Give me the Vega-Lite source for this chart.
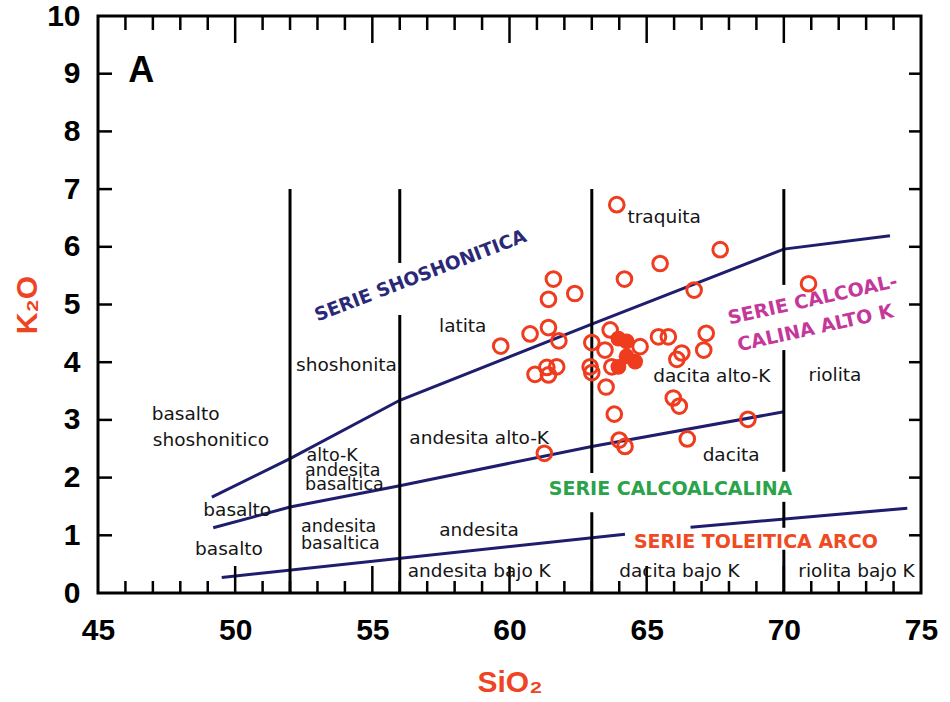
{
  "$schema": "https://vega.github.io/schema/vega-lite/v6.json",
  "width": 823,
  "height": 577,
  "autosize": {"type": "none"},
  "padding": {"left": 98, "top": 16, "right": 29, "bottom": 109},
  "background": "white",
  "config": {
    "view": {"stroke": "black", "strokeWidth": 3},
    "axis": {"grid": false, "domain": false, "labelFlush": false, "labelOverlap": false}
  },
  "datasets": {
    "bounds": [
      {"seg": "sho", "x": 49.15, "y": 1.66},
      {"seg": "sho", "x": 52, "y": 2.33},
      {"seg": "sho", "x": 56, "y": 3.34},
      {"seg": "sho", "x": 63, "y": 4.66},
      {"seg": "sho", "x": 70, "y": 5.96},
      {"seg": "sho", "x": 73.87, "y": 6.19},
      {"seg": "hk", "x": 49.2, "y": 1.13},
      {"seg": "hk", "x": 52, "y": 1.49},
      {"seg": "hk", "x": 56, "y": 1.86},
      {"seg": "hk", "x": 63, "y": 2.54},
      {"seg": "hk", "x": 70, "y": 3.14},
      {"seg": "th1", "x": 49.51, "y": 0.27},
      {"seg": "th1", "x": 64.21, "y": 1.02},
      {"seg": "th2", "x": 66.6, "y": 1.14},
      {"seg": "th2", "x": 74.5, "y": 1.47}
    ],
    "verts": [
      {"x": 52, "y": 0, "y2": 7},
      {"x": 56, "y": 0, "y2": 4.82},
      {"x": 56, "y": 5.72, "y2": 7},
      {"x": 63, "y": 0, "y2": 1.4},
      {"x": 63, "y": 2.08, "y2": 7},
      {"x": 70, "y": 0, "y2": 0.75},
      {"x": 70, "y": 1.13, "y2": 1.58},
      {"x": 70, "y": 2.1, "y2": 4.21},
      {"x": 70, "y": 5.34, "y2": 7}
    ],
    "xminor": [
      {"v": 46}, {"v": 47}, {"v": 48}, {"v": 49}, {"v": 51}, {"v": 52}, {"v": 53}, {"v": 54},
      {"v": 56}, {"v": 57}, {"v": 58}, {"v": 59}, {"v": 61}, {"v": 62}, {"v": 63}, {"v": 64},
      {"v": 66}, {"v": 67}, {"v": 68}, {"v": 69}, {"v": 71}, {"v": 72}, {"v": 73}, {"v": 74}
    ],
    "xmajor": [{"v": 50}, {"v": 55}, {"v": 60}, {"v": 65}, {"v": 70}],
    "yticks": [{"v": 1}, {"v": 2}, {"v": 3}, {"v": 4}, {"v": 5}, {"v": 6}, {"v": 7}, {"v": 8}, {"v": 9}],
    "pts": [
      {"x": 63.91, "y": 6.73}, {"x": 67.68, "y": 5.95}, {"x": 65.49, "y": 5.71},
      {"x": 64.19, "y": 5.44}, {"x": 61.6, "y": 5.44}, {"x": 62.38, "y": 5.19},
      {"x": 61.42, "y": 5.09}, {"x": 66.73, "y": 5.25}, {"x": 70.9, "y": 5.36},
      {"x": 61.42, "y": 4.6}, {"x": 60.75, "y": 4.49}, {"x": 59.68, "y": 4.28},
      {"x": 61.8, "y": 4.37}, {"x": 63.0, "y": 4.34}, {"x": 63.67, "y": 4.56},
      {"x": 63.48, "y": 4.21}, {"x": 60.93, "y": 3.79}, {"x": 61.36, "y": 3.91},
      {"x": 61.72, "y": 3.92}, {"x": 61.42, "y": 3.78}, {"x": 62.94, "y": 3.92},
      {"x": 63.0, "y": 3.82}, {"x": 63.73, "y": 3.92}, {"x": 64.76, "y": 4.27},
      {"x": 65.43, "y": 4.44}, {"x": 65.79, "y": 4.44}, {"x": 67.17, "y": 4.5},
      {"x": 66.28, "y": 4.16}, {"x": 66.1, "y": 4.05}, {"x": 67.08, "y": 4.21},
      {"x": 63.52, "y": 3.57}, {"x": 65.97, "y": 3.38}, {"x": 66.19, "y": 3.24},
      {"x": 63.82, "y": 3.1}, {"x": 68.69, "y": 3.01}, {"x": 64.0, "y": 2.65},
      {"x": 64.21, "y": 2.54}, {"x": 66.48, "y": 2.67}, {"x": 61.27, "y": 2.42}
    ],
    "filledpts": [
      {"x": 63.97, "y": 4.41}, {"x": 64.27, "y": 4.36}, {"x": 63.97, "y": 3.92},
      {"x": 64.58, "y": 4.01}, {"x": 64.27, "y": 4.1}
    ],
    "labels": [
      {"text": "traquita", "x": 64.3, "y": 6.41},
      {"text": "latita", "x": 57.43, "y": 4.53},
      {"text": "shoshonita", "x": 52.22, "y": 3.85},
      {"text": "basalto", "x": 46.96, "y": 3.0},
      {"text": "shoshonitico", "x": 47.0, "y": 2.55},
      {"text": "basalto", "x": 48.84, "y": 1.33},
      {"text": "basalto", "x": 48.54, "y": 0.66},
      {"text": "andesita alto-K", "x": 56.35, "y": 2.59},
      {"text": "andesita", "x": 57.44, "y": 0.98},
      {"text": "andesita bajo K", "x": 56.29, "y": 0.28},
      {"text": "dacita alto-K", "x": 65.24, "y": 3.66},
      {"text": "riolita", "x": 70.9, "y": 3.67},
      {"text": "dacita", "x": 67.04, "y": 2.29},
      {"text": "dacita bajo K", "x": 64.0, "y": 0.28},
      {"text": "riolita bajo K", "x": 70.53, "y": 0.28}
    ],
    "smalllabels": [
      {"text": "alto-K", "x": 52.6, "y": 2.29},
      {"text": "andesita", "x": 52.55, "y": 2.03},
      {"text": "basaltica", "x": 52.55, "y": 1.79},
      {"text": "andesita", "x": 52.4, "y": 1.06},
      {"text": "basaltica", "x": 52.4, "y": 0.77}
    ],
    "navy": [{"text": "SERIE SHOSHONITICA", "x": 56.75, "y": 5.5}],
    "magenta": [
      {"text": "SERIE CALCOAL-", "x": 71.05, "y": 5.08},
      {"text": "CALINA ALTO K", "x": 71.15, "y": 4.59}
    ],
    "green": [{"text": "SERIE CALCOALCALINA", "x": 65.87, "y": 1.7}],
    "red": [{"text": "SERIE TOLEITICA ARCO", "x": 68.98, "y": 0.775}],
    "panel": [{"text": "A", "x": 46.1, "y": 8.86}]
  },
  "layer": [
    {
      "data": {"name": "bounds"},
      "mark": {"type": "line", "color": "#1f1d6e", "strokeWidth": 3},
      "encoding": {
        "x": {"field": "x", "type": "quantitative", "scale": {"domain": [45, 75], "nice": false, "zero": false},
          "axis": {"orient": "bottom", "values": [45, 50, 55, 60, 65, 70, 75], "ticks": false,
            "labelFont": "Liberation Sans", "labelFontWeight": "bold", "labelFontSize": 30, "labelColor": "black", "labelPadding": 22,
            "title": "SiO₂", "titleFont": "Liberation Sans", "titleFontWeight": "bold", "titleFontSize": 30, "titleColor": "#ef4423", "titlePadding": 22}},
        "y": {"field": "y", "type": "quantitative", "scale": {"domain": [0, 10], "nice": false, "zero": false},
          "axis": {"orient": "left", "values": [0, 1, 2, 3, 4, 5, 6, 7, 8, 9, 10], "ticks": false,
            "labelFont": "Liberation Sans", "labelFontWeight": "bold", "labelFontSize": 30, "labelColor": "black", "labelPadding": 18,
            "title": "K₂O", "titleFont": "Liberation Sans", "titleFontWeight": "bold", "titleFontSize": 30, "titleColor": "#ef4423", "titlePadding": 4}},
        "detail": {"field": "seg"}
      }
    },
    {
      "data": {"name": "xminor"},
      "mark": {"type": "tick", "orient": "vertical", "size": 24, "thickness": 2.5, "color": "black", "opacity": 1, "clip": true},
      "encoding": {
        "x": {"field": "v", "type": "quantitative", "axis": null},
        "y": {"datum": 0, "type": "quantitative", "axis": null}
      }
    },
    {
      "data": {"name": "xminor"},
      "mark": {"type": "tick", "orient": "vertical", "size": 28, "thickness": 2.5, "color": "black", "opacity": 1, "clip": true},
      "encoding": {
        "x": {"field": "v", "type": "quantitative", "axis": null},
        "y": {"datum": 10, "type": "quantitative", "axis": null}
      }
    },
    {
      "data": {"name": "xmajor"},
      "mark": {"type": "tick", "orient": "vertical", "size": 54, "thickness": 2.5, "color": "black", "opacity": 1, "clip": true},
      "encoding": {
        "x": {"field": "v", "type": "quantitative", "axis": null},
        "y": {"datum": 0, "type": "quantitative", "axis": null}
      }
    },
    {
      "data": {"name": "xmajor"},
      "mark": {"type": "tick", "orient": "vertical", "size": 54, "thickness": 2.5, "color": "black", "opacity": 1, "clip": true},
      "encoding": {
        "x": {"field": "v", "type": "quantitative", "axis": null},
        "y": {"datum": 10, "type": "quantitative", "axis": null}
      }
    },
    {
      "data": {"name": "yticks"},
      "mark": {"type": "tick", "orient": "horizontal", "size": 28, "thickness": 2.5, "color": "black", "opacity": 1, "clip": true},
      "encoding": {
        "y": {"field": "v", "type": "quantitative", "axis": null},
        "x": {"datum": 45, "type": "quantitative", "axis": null}
      }
    },
    {
      "data": {"name": "yticks"},
      "mark": {"type": "tick", "orient": "horizontal", "size": 24, "thickness": 2.5, "color": "black", "opacity": 1, "clip": true},
      "encoding": {
        "y": {"field": "v", "type": "quantitative", "axis": null},
        "x": {"datum": 75, "type": "quantitative", "axis": null}
      }
    },
    {
      "data": {"name": "verts"},
      "mark": {"type": "rule", "color": "black", "strokeWidth": 3},
      "encoding": {
        "x": {"field": "x", "type": "quantitative", "axis": null},
        "y": {"field": "y", "type": "quantitative", "axis": null},
        "y2": {"field": "y2"}
      }
    },
    {
      "data": {"name": "pts"},
      "mark": {"type": "point", "shape": "circle", "filled": false, "color": "#f03c1e", "strokeWidth": 3, "size": 215, "opacity": 1},
      "encoding": {
        "x": {"field": "x", "type": "quantitative", "axis": null},
        "y": {"field": "y", "type": "quantitative", "axis": null}
      }
    },
    {
      "data": {"name": "filledpts"},
      "mark": {"type": "point", "shape": "circle", "filled": true, "color": "#f03c1e", "size": 250, "opacity": 1},
      "encoding": {
        "x": {"field": "x", "type": "quantitative", "axis": null},
        "y": {"field": "y", "type": "quantitative", "axis": null}
      }
    },
    {
      "data": {"name": "labels"},
      "mark": {"type": "text", "align": "left", "baseline": "alphabetic", "font": "DejaVu Sans", "fontSize": 18.5, "color": "#151515"},
      "encoding": {
        "x": {"field": "x", "type": "quantitative", "axis": null},
        "y": {"field": "y", "type": "quantitative", "axis": null},
        "text": {"field": "text", "type": "nominal"}
      }
    },
    {
      "data": {"name": "smalllabels"},
      "mark": {"type": "text", "align": "left", "baseline": "alphabetic", "font": "DejaVu Sans", "fontSize": 17.5, "color": "#151515"},
      "encoding": {
        "x": {"field": "x", "type": "quantitative", "axis": null},
        "y": {"field": "y", "type": "quantitative", "axis": null},
        "text": {"field": "text", "type": "nominal"}
      }
    },
    {
      "data": {"name": "navy"},
      "mark": {"type": "text", "align": "center", "baseline": "middle", "angle": -21, "font": "DejaVu Sans", "fontWeight": "bold", "fontSize": 18.5, "color": "#2b2977"},
      "encoding": {
        "x": {"field": "x", "type": "quantitative", "axis": null},
        "y": {"field": "y", "type": "quantitative", "axis": null},
        "text": {"field": "text", "type": "nominal"}
      }
    },
    {
      "data": {"name": "magenta"},
      "mark": {"type": "text", "align": "center", "baseline": "middle", "angle": -12.5, "font": "DejaVu Sans", "fontWeight": "bold", "fontSize": 19, "color": "#c4389b"},
      "encoding": {
        "x": {"field": "x", "type": "quantitative", "axis": null},
        "y": {"field": "y", "type": "quantitative", "axis": null},
        "text": {"field": "text", "type": "nominal"}
      }
    },
    {
      "data": {"name": "green"},
      "mark": {"type": "text", "align": "center", "baseline": "alphabetic", "font": "DejaVu Sans", "fontWeight": "bold", "fontSize": 19, "color": "#2aa34a"},
      "encoding": {
        "x": {"field": "x", "type": "quantitative", "axis": null},
        "y": {"field": "y", "type": "quantitative", "axis": null},
        "text": {"field": "text", "type": "nominal"}
      }
    },
    {
      "data": {"name": "red"},
      "mark": {"type": "text", "align": "center", "baseline": "alphabetic", "font": "DejaVu Sans", "fontWeight": "bold", "fontSize": 19, "color": "#f04a23"},
      "encoding": {
        "x": {"field": "x", "type": "quantitative", "axis": null},
        "y": {"field": "y", "type": "quantitative", "axis": null},
        "text": {"field": "text", "type": "nominal"}
      }
    },
    {
      "data": {"name": "panel"},
      "mark": {"type": "text", "align": "left", "baseline": "alphabetic", "font": "Liberation Sans", "fontWeight": "bold", "fontSize": 36, "color": "black"},
      "encoding": {
        "x": {"field": "x", "type": "quantitative", "axis": null},
        "y": {"field": "y", "type": "quantitative", "axis": null},
        "text": {"field": "text", "type": "nominal"}
      }
    }
  ],
  "resolve": {"axis": {"x": "independent", "y": "independent"}}
}
